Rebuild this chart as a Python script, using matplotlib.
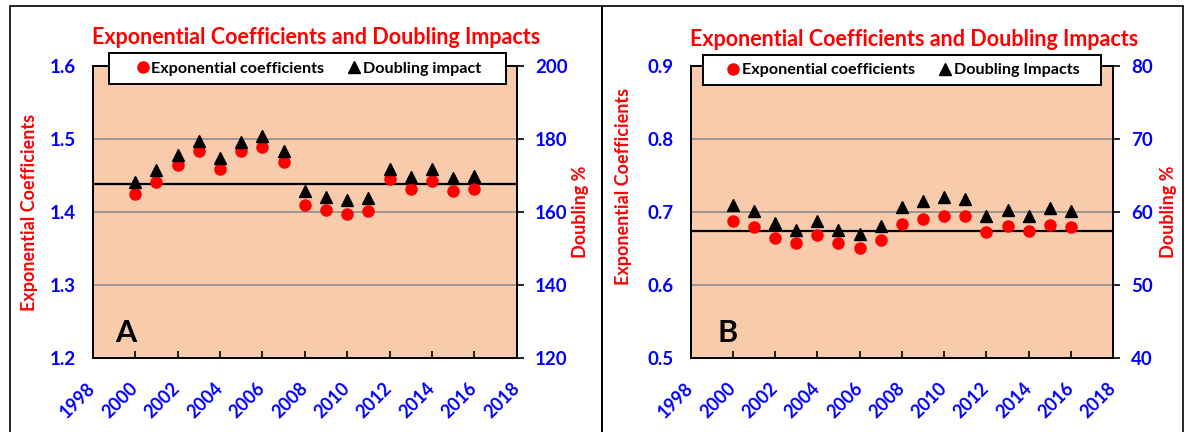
import matplotlib
matplotlib.use("Agg")
import matplotlib.pyplot as plt
from matplotlib.patches import Rectangle
from matplotlib.lines import Line2D
from matplotlib.transforms import ScaledTranslation

# ---- data ----
years = [2000, 2001, 2002, 2003, 2004, 2005, 2006, 2007, 2008,
         2009, 2010, 2011, 2012, 2013, 2014, 2015, 2016]

coef_A = [1.424, 1.441, 1.464, 1.483, 1.459, 1.483, 1.489, 1.468, 1.410,
          1.403, 1.397, 1.401, 1.445, 1.431, 1.442, 1.429, 1.432]
doubling_A = [168.3, 171.4, 175.6, 179.5, 174.8, 179.3, 180.8, 176.7, 165.7,
              164.2, 163.2, 163.8, 171.9, 169.7, 171.7, 169.2, 169.8]
mean_A = 1.439

coef_B = [0.687, 0.679, 0.664, 0.657, 0.668, 0.657, 0.651, 0.661, 0.684,
          0.691, 0.694, 0.694, 0.673, 0.681, 0.674, 0.682, 0.679]
doubling_B = [61.0, 60.1, 58.45, 57.6, 58.8, 57.6, 57.0, 58.1, 60.7,
              61.5, 62.0, 61.8, 59.5, 60.3, 59.5, 60.5, 60.1]
mean_B = 0.674

xticks = [1998, 2000, 2002, 2004, 2006, 2008, 2010, 2012, 2014, 2016, 2018]
title = "Exponential Coefficients and Doubling Impacts"
left_label = "Exponential Coefficients"
right_label = "Doubling %"

panels = [
    dict(coef=coef_A, dbl=doubling_A, mean=mean_A, ylim=(1.2, 1.6),
         yticks=[1.2, 1.3, 1.4, 1.5, 1.6], ylim2=(120, 200),
         yticks2=[120, 140, 160, 180, 200], letter="A",
         legend2="Doubling impact"),
    dict(coef=coef_B, dbl=doubling_B, mean=mean_B, ylim=(0.5, 0.9),
         yticks=[0.5, 0.6, 0.7, 0.8, 0.9], ylim2=(40, 80),
         yticks2=[40, 50, 60, 70, 80], letter="B",
         legend2="Doubling Impacts"),
]

plt.rcParams['font.family'] = ['Lato', 'DejaVu Sans']
plt.rcParams['font.weight'] = 'bold'

W, H = 1185, 432
fig = plt.figure(figsize=(W / 100, H / 100), dpi=100)

def fx(px):
    return px / W

def fy(py):
    return 1 - py / H

BLUE = "#0000FF"
RED = "#FF0000"
PEACH = "#F8CBAD"

ax_px = [(92.7, 516.7), (690.5, 1113.3)]
frames = [(10, 602), (602, 1183)]
title_pos = [(316.5, 37), (914, 39)]
legend_box = [(109, 506, 53, 84), (703, 1101, 55, 85)]
letter_pos = [(115, 342), (717, 342)]
left_label_coords = [(-0.129, 0.5), (-0.138, 0.587)]
right_label_coords = [(1.13, 0.5), (1.11, 0.5)]

for i, p in enumerate(panels):
    x0, x1 = ax_px[i]
    ax = fig.add_axes([fx(x0), fy(358), fx(x1 - x0), (358 - 66) / H])
    ax.set_facecolor(PEACH)
    ax.set_xlim(1998, 2018)
    ax.set_ylim(*p['ylim'])
    ax.set_yticks(p['yticks'])
    ax.set_yticklabels([f"{v:.1f}" for v in p['yticks']])
    ax.set_xticks(xticks)
    ax.set_xticklabels([str(v) for v in xticks], rotation=45, ha='right',
                       rotation_mode='anchor', va='center')
    for lab in ax.get_xticklabels():
        lab.set_transform(lab.get_transform() +
                          ScaledTranslation(4 / 100, 0, fig.dpi_scale_trans))
    for yv in p['yticks'][1:-1]:
        ax.axhline(yv, color='#8c8c8c', lw=1.2, zorder=1)
    ax.axhline(p['mean'], color='black', lw=1.6, zorder=2)
    ax.plot(years, p['coef'], 'o', color=RED, ms=8, mec=RED, zorder=3,
            clip_on=False)
    for s in ax.spines.values():
        s.set_color('black')
        s.set_linewidth(1.3)
    ax.tick_params(axis='x', direction='in', length=5, width=1.2,
                   colors='black', labelcolor=BLUE, labelsize=13, pad=20)
    ax.tick_params(axis='y', length=0, labelcolor=BLUE, labelsize=13.5, pad=12)
    ax.set_ylabel(left_label, color=RED, fontsize=13, fontweight='bold')
    ax.yaxis.set_label_coords(*left_label_coords[i])

    ax2 = ax.twinx()
    ax2.set_ylim(*p['ylim2'])
    ax2.set_yticks(p['yticks2'])
    ax2.plot(years, p['dbl'], '^', color='black', ms=8, zorder=4,
             clip_on=False)
    ax2.tick_params(axis='y', direction='out', length=5, width=1.2,
                    colors='black', labelcolor=BLUE, labelsize=13.5, pad=8)
    for s in ax2.spines.values():
        s.set_color('black')
        s.set_linewidth(1.3)
    ax2.set_ylabel(right_label, color=RED, fontsize=13, fontweight='bold',
                   rotation=90)
    ax2.yaxis.set_label_coords(*right_label_coords[i])

    lx, ly = letter_pos[i]
    fig.text(fx(lx), fy(ly), p['letter'], fontsize=22, fontweight='bold',
             color='black', ha='left', va='baseline')

    # title
    tx, ty = title_pos[i]
    fig.text(fx(tx), fy(ty), title, color=RED, fontsize=15.5,
             fontweight='bold', ha='center', va='center')

    # legend box + legend
    lx0, lx1, ly0, ly1 = legend_box[i]
    fig.patches.append(Rectangle((fx(lx0), fy(ly1)), fx(lx1 - lx0),
                                 (ly1 - ly0) / H, transform=fig.transFigure,
                                 facecolor='white', edgecolor='black',
                                 lw=1.4, zorder=3))
    handles = [Line2D([], [], ls='none', marker='o', color=RED, ms=8),
               Line2D([], [], ls='none', marker='^', color='black', ms=8)]
    leg = fig.legend(handles, ["Exponential coefficients", p['legend2']],
                     loc='center', ncol=2,
                     bbox_to_anchor=(fx((lx0 + lx1) / 2 + 2),
                                     fy((ly0 + ly1) / 2)),
                     frameon=False, handlelength=0.6,
                     handletextpad=0.25, columnspacing=1.55,
                     borderpad=0.0,
                     prop={'weight': 'bold', 'size': 11.6})
    leg.set_zorder(6)

    # outer frame
    fr0, fr1 = frames[i]
    fig.patches.append(Rectangle((fx(fr0), -0.2), fx(fr1 - fr0), fy(6) + 0.2,
                                 transform=fig.transFigure, fill=False,
                                 edgecolor='black', lw=1.2, clip_on=False))

fig.savefig("out.png", dpi=100)
